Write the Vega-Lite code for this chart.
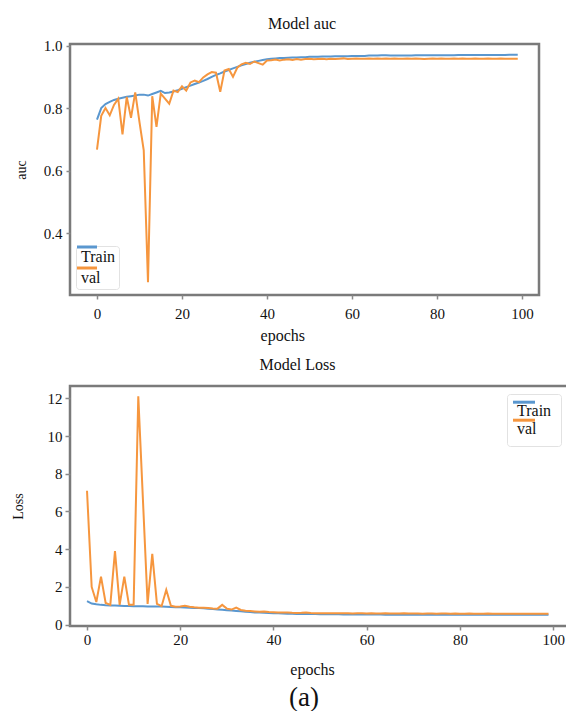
{
  "$schema": "https://vega.github.io/schema/vega-lite/v6.json",
  "padding": {"left": 9, "top": 14, "right": 0, "bottom": 0},
  "background": "#ffffff",
  "config": {
    "font": "Liberation Serif",
    "view": {"stroke": "#7a7a7a", "strokeWidth": 2.5},
    "axis": {"domain": false, "grid": false, "tickColor": "#8a8a8a", "tickSize": 4, "tickWidth": 1.5, "labelFont": "Liberation Serif", "labelFontSize": 15, "labelColor": "#111111", "titleFont": "Liberation Serif", "titleFontSize": 14, "titleFontWeight": "normal", "titleColor": "#111111"},
    "legend": {"labelFont": "Liberation Serif", "labelColor": "#111111"},
    "title": {"font": "Liberation Serif", "fontSize": 16, "fontWeight": "normal", "color": "#111111"}
  },
  "datasets": {
    "auc": [
      {"epoch":0,"Train":0.763,"val":0.667},{"epoch":1,"Train":0.800,"val":0.775},{"epoch":2,"Train":0.813,"val":0.800},{"epoch":3,"Train":0.820,"val":0.777},{"epoch":4,"Train":0.826,"val":0.810},
      {"epoch":5,"Train":0.830,"val":0.830},{"epoch":6,"Train":0.833,"val":0.716},{"epoch":7,"Train":0.836,"val":0.836},{"epoch":8,"Train":0.838,"val":0.769},{"epoch":9,"Train":0.840,"val":0.850},
      {"epoch":10,"Train":0.843,"val":0.755},{"epoch":11,"Train":0.843,"val":0.665},{"epoch":12,"Train":0.840,"val":0.243},{"epoch":13,"Train":0.845,"val":0.838},{"epoch":14,"Train":0.850,"val":0.740},
      {"epoch":15,"Train":0.855,"val":0.846},{"epoch":16,"Train":0.848,"val":0.830},{"epoch":17,"Train":0.850,"val":0.814},{"epoch":18,"Train":0.853,"val":0.856},{"epoch":19,"Train":0.857,"val":0.851},
      {"epoch":20,"Train":0.862,"val":0.870},{"epoch":21,"Train":0.867,"val":0.856},{"epoch":22,"Train":0.872,"val":0.882},{"epoch":23,"Train":0.877,"val":0.888},{"epoch":24,"Train":0.882,"val":0.883},
      {"epoch":25,"Train":0.887,"val":0.898},{"epoch":26,"Train":0.893,"val":0.908},{"epoch":27,"Train":0.900,"val":0.915},{"epoch":28,"Train":0.906,"val":0.913},{"epoch":29,"Train":0.911,"val":0.852},
      {"epoch":30,"Train":0.917,"val":0.920},{"epoch":31,"Train":0.922,"val":0.925},{"epoch":32,"Train":0.927,"val":0.900},{"epoch":33,"Train":0.932,"val":0.929},{"epoch":34,"Train":0.937,"val":0.940},
      {"epoch":35,"Train":0.941,"val":0.945},{"epoch":36,"Train":0.945,"val":0.941},{"epoch":37,"Train":0.948,"val":0.949},{"epoch":38,"Train":0.951,"val":0.944},{"epoch":39,"Train":0.954,"val":0.939},
      {"epoch":40,"Train":0.956,"val":0.952},{"epoch":41,"Train":0.958,"val":0.953},{"epoch":42,"Train":0.959,"val":0.955},{"epoch":43,"Train":0.960,"val":0.952},{"epoch":44,"Train":0.960,"val":0.955},
      {"epoch":45,"Train":0.961,"val":0.956},{"epoch":46,"Train":0.962,"val":0.954},{"epoch":47,"Train":0.962,"val":0.957},{"epoch":48,"Train":0.963,"val":0.955},{"epoch":49,"Train":0.963,"val":0.957},
      {"epoch":50,"Train":0.964,"val":0.958},{"epoch":51,"Train":0.964,"val":0.956},{"epoch":52,"Train":0.964,"val":0.957},{"epoch":53,"Train":0.965,"val":0.958},{"epoch":54,"Train":0.965,"val":0.956},
      {"epoch":55,"Train":0.965,"val":0.958},{"epoch":56,"Train":0.966,"val":0.957},{"epoch":57,"Train":0.966,"val":0.958},{"epoch":58,"Train":0.966,"val":0.959},{"epoch":59,"Train":0.966,"val":0.957},
      {"epoch":60,"Train":0.967,"val":0.958},{"epoch":61,"Train":0.967,"val":0.959},{"epoch":62,"Train":0.967,"val":0.958},{"epoch":63,"Train":0.967,"val":0.958},{"epoch":64,"Train":0.968,"val":0.959},
      {"epoch":65,"Train":0.968,"val":0.958},{"epoch":66,"Train":0.968,"val":0.959},{"epoch":67,"Train":0.969,"val":0.958},{"epoch":68,"Train":0.969,"val":0.959},{"epoch":69,"Train":0.968,"val":0.958},
      {"epoch":70,"Train":0.968,"val":0.959},{"epoch":71,"Train":0.968,"val":0.958},{"epoch":72,"Train":0.968,"val":0.958},{"epoch":73,"Train":0.968,"val":0.959},{"epoch":74,"Train":0.968,"val":0.958},
      {"epoch":75,"Train":0.969,"val":0.959},{"epoch":76,"Train":0.969,"val":0.958},{"epoch":77,"Train":0.969,"val":0.957},{"epoch":78,"Train":0.969,"val":0.958},{"epoch":79,"Train":0.969,"val":0.959},
      {"epoch":80,"Train":0.969,"val":0.958},{"epoch":81,"Train":0.969,"val":0.959},{"epoch":82,"Train":0.969,"val":0.958},{"epoch":83,"Train":0.969,"val":0.958},{"epoch":84,"Train":0.969,"val":0.959},
      {"epoch":85,"Train":0.970,"val":0.958},{"epoch":86,"Train":0.970,"val":0.959},{"epoch":87,"Train":0.970,"val":0.958},{"epoch":88,"Train":0.970,"val":0.958},{"epoch":89,"Train":0.970,"val":0.959},
      {"epoch":90,"Train":0.970,"val":0.958},{"epoch":91,"Train":0.970,"val":0.958},{"epoch":92,"Train":0.970,"val":0.959},{"epoch":93,"Train":0.970,"val":0.958},{"epoch":94,"Train":0.970,"val":0.958},
      {"epoch":95,"Train":0.970,"val":0.959},{"epoch":96,"Train":0.970,"val":0.958},{"epoch":97,"Train":0.971,"val":0.958},{"epoch":98,"Train":0.971,"val":0.958},{"epoch":99,"Train":0.971,"val":0.958}
    ],
    "loss": [
      {"epoch":0,"Train":1.25,"val":7.1},{"epoch":1,"Train":1.12,"val":2.0},{"epoch":2,"Train":1.08,"val":1.2},{"epoch":3,"Train":1.05,"val":2.55},{"epoch":4,"Train":1.03,"val":1.15},
      {"epoch":5,"Train":1.02,"val":1.05},{"epoch":6,"Train":1.01,"val":3.9},{"epoch":7,"Train":1.0,"val":1.05},{"epoch":8,"Train":0.99,"val":2.55},{"epoch":9,"Train":0.99,"val":1.05},
      {"epoch":10,"Train":0.98,"val":1.05},{"epoch":11,"Train":0.98,"val":12.1},{"epoch":12,"Train":0.98,"val":6.6},{"epoch":13,"Train":0.97,"val":1.1},{"epoch":14,"Train":0.96,"val":3.75},
      {"epoch":15,"Train":0.96,"val":1.1},{"epoch":16,"Train":0.96,"val":0.98},{"epoch":17,"Train":0.95,"val":1.85},{"epoch":18,"Train":0.94,"val":1.0},{"epoch":19,"Train":0.93,"val":0.95},
      {"epoch":20,"Train":0.92,"val":0.96},{"epoch":21,"Train":0.91,"val":1.0},{"epoch":22,"Train":0.9,"val":0.95},{"epoch":23,"Train":0.89,"val":0.92},{"epoch":24,"Train":0.88,"val":0.9},
      {"epoch":25,"Train":0.87,"val":0.9},{"epoch":26,"Train":0.85,"val":0.88},{"epoch":27,"Train":0.83,"val":0.86},{"epoch":28,"Train":0.81,"val":0.85},{"epoch":29,"Train":0.79,"val":1.05},
      {"epoch":30,"Train":0.77,"val":0.85},{"epoch":31,"Train":0.75,"val":0.8},{"epoch":32,"Train":0.73,"val":0.9},{"epoch":33,"Train":0.71,"val":0.78},{"epoch":34,"Train":0.69,"val":0.74},
      {"epoch":35,"Train":0.67,"val":0.72},{"epoch":36,"Train":0.65,"val":0.7},{"epoch":37,"Train":0.64,"val":0.68},{"epoch":38,"Train":0.63,"val":0.7},{"epoch":39,"Train":0.62,"val":0.67},
      {"epoch":40,"Train":0.61,"val":0.66},{"epoch":41,"Train":0.6,"val":0.65},{"epoch":42,"Train":0.59,"val":0.64},{"epoch":43,"Train":0.58,"val":0.65},{"epoch":44,"Train":0.58,"val":0.63},
      {"epoch":45,"Train":0.57,"val":0.62},{"epoch":46,"Train":0.57,"val":0.63},{"epoch":47,"Train":0.56,"val":0.65},{"epoch":48,"Train":0.56,"val":0.62},{"epoch":49,"Train":0.56,"val":0.61},
      {"epoch":50,"Train":0.55,"val":0.6},{"epoch":51,"Train":0.55,"val":0.61},{"epoch":52,"Train":0.55,"val":0.6},{"epoch":53,"Train":0.55,"val":0.6},{"epoch":54,"Train":0.55,"val":0.61},
      {"epoch":55,"Train":0.54,"val":0.6},{"epoch":56,"Train":0.54,"val":0.6},{"epoch":57,"Train":0.54,"val":0.59},{"epoch":58,"Train":0.54,"val":0.6},{"epoch":59,"Train":0.54,"val":0.6},
      {"epoch":60,"Train":0.54,"val":0.59},{"epoch":61,"Train":0.54,"val":0.6},{"epoch":62,"Train":0.54,"val":0.59},{"epoch":63,"Train":0.54,"val":0.59},{"epoch":64,"Train":0.53,"val":0.6},
      {"epoch":65,"Train":0.53,"val":0.59},{"epoch":66,"Train":0.53,"val":0.59},{"epoch":67,"Train":0.53,"val":0.59},{"epoch":68,"Train":0.53,"val":0.6},{"epoch":69,"Train":0.53,"val":0.59},
      {"epoch":70,"Train":0.53,"val":0.59},{"epoch":71,"Train":0.53,"val":0.59},{"epoch":72,"Train":0.53,"val":0.58},{"epoch":73,"Train":0.53,"val":0.59},{"epoch":74,"Train":0.53,"val":0.59},
      {"epoch":75,"Train":0.53,"val":0.58},{"epoch":76,"Train":0.53,"val":0.59},{"epoch":77,"Train":0.53,"val":0.59},{"epoch":78,"Train":0.53,"val":0.58},{"epoch":79,"Train":0.53,"val":0.59},
      {"epoch":80,"Train":0.53,"val":0.58},{"epoch":81,"Train":0.53,"val":0.58},{"epoch":82,"Train":0.52,"val":0.59},{"epoch":83,"Train":0.52,"val":0.58},{"epoch":84,"Train":0.52,"val":0.58},
      {"epoch":85,"Train":0.52,"val":0.58},{"epoch":86,"Train":0.52,"val":0.59},{"epoch":87,"Train":0.52,"val":0.58},{"epoch":88,"Train":0.52,"val":0.58},{"epoch":89,"Train":0.52,"val":0.58},
      {"epoch":90,"Train":0.52,"val":0.58},{"epoch":91,"Train":0.52,"val":0.58},{"epoch":92,"Train":0.52,"val":0.58},{"epoch":93,"Train":0.52,"val":0.58},{"epoch":94,"Train":0.52,"val":0.58},
      {"epoch":95,"Train":0.52,"val":0.58},{"epoch":96,"Train":0.52,"val":0.58},{"epoch":97,"Train":0.52,"val":0.58},{"epoch":98,"Train":0.52,"val":0.58},{"epoch":99,"Train":0.52,"val":0.58}
    ]
  },
  "title": {"text": "(a)", "orient": "bottom", "fontSize": 27, "anchor": "middle", "offset": 7, "dx": 14},
  "columns": 1,
  "spacing": 10,
  "resolve": {"scale": {"color": "independent"}},
  "concat": [
    {
      "width": 469,
      "height": 251,
      "title": {"text": "Model auc", "baseline": "alphabetic", "offset": -6, "dx": -2.5},
      "data": {"name": "auc"},
      "transform": [{"fold": ["Train", "val"], "as": ["series", "value"]}],
      "mark": {"type": "line", "strokeWidth": 2},
      "encoding": {
        "x": {"field": "epoch", "type": "quantitative", "scale": {"domain": [-6.35, 104], "nice": false, "zero": false},
              "axis": {"values": [0, 20, 40, 60, 80, 100], "title": "epochs", "labelFont": "Liberation Serif", "titleFont": "Liberation Serif", "titleFontSize": 16, "labelPadding": 7, "titlePadding": 6.5, "titleAlign": "right"}},
        "y": {"field": "value", "type": "quantitative", "scale": {"domain": [0.202, 1.005], "nice": false, "zero": false},
              "axis": {"values": [0.4, 0.6, 0.8, 1.0], "format": ".1f", "title": "auc", "labelFont": "Liberation Serif", "titleFont": "Liberation Serif", "labelPadding": 4, "titlePadding": 15}},
        "color": {"field": "series", "type": "nominal", "scale": {"domain": ["Train", "val"], "range": ["#5a97cf", "#f6963e"]},
                  "legend": {"orient": "bottom-left", "offset": 6, "title": null, "symbolType": "M-2.5,-2.5L2.5,-2.5", "symbolSize": 64, "symbolStrokeWidth": 3, "labelFont": "Liberation Serif", "labelFontSize": 16, "labelOffset": -14, "labelBaseline": "middle", "fillColor": "#ffffff", "strokeColor": "#e2e2e2", "padding": 3, "rowPadding": -3, "cornerRadius": 3}}
      }
    },
    {
      "width": 499,
      "height": 240,
      "title": {"text": "Model Loss", "baseline": "alphabetic", "offset": 0, "dx": -22},
      "data": {"name": "loss"},
      "transform": [{"fold": ["Train", "val"], "as": ["series", "value"]}],
      "mark": {"type": "line", "strokeWidth": 2},
      "encoding": {
        "x": {"field": "epoch", "type": "quantitative", "scale": {"domain": [-3.65, 103.4], "nice": false, "zero": false},
              "axis": {"values": [0, 20, 40, 60, 80, 100], "title": "epochs", "labelFont": "Liberation Serif", "titleFont": "Liberation Serif", "titleFontSize": 16, "labelPadding": 2, "titlePadding": 14, "titleX": 242}},
        "y": {"field": "value", "type": "quantitative", "scale": {"domain": [-0.07, 12.65], "nice": false, "zero": false},
              "axis": {"values": [0, 2, 4, 6, 8, 10, 12], "title": "Loss", "labelFont": "Liberation Serif", "titleFont": "Liberation Serif", "tickSize": 5, "labelPadding": 3, "titlePadding": 22}},
        "color": {"field": "series", "type": "nominal", "scale": {"domain": ["Train", "val"], "range": ["#5a97cf", "#f6963e"]},
                  "legend": {"orient": "top-right", "offset": 8, "title": null, "symbolType": "M-2.75,-2.2L2.75,-2.2", "symbolSize": 64, "symbolStrokeWidth": 3, "labelFont": "Liberation Serif", "labelFontSize": 16, "labelOffset": -15, "labelBaseline": "middle", "fillColor": "#ffffff", "strokeColor": "#e2e2e2", "padding": 9, "rowPadding": -5, "cornerRadius": 3}}
      }
    }
  ]
}
